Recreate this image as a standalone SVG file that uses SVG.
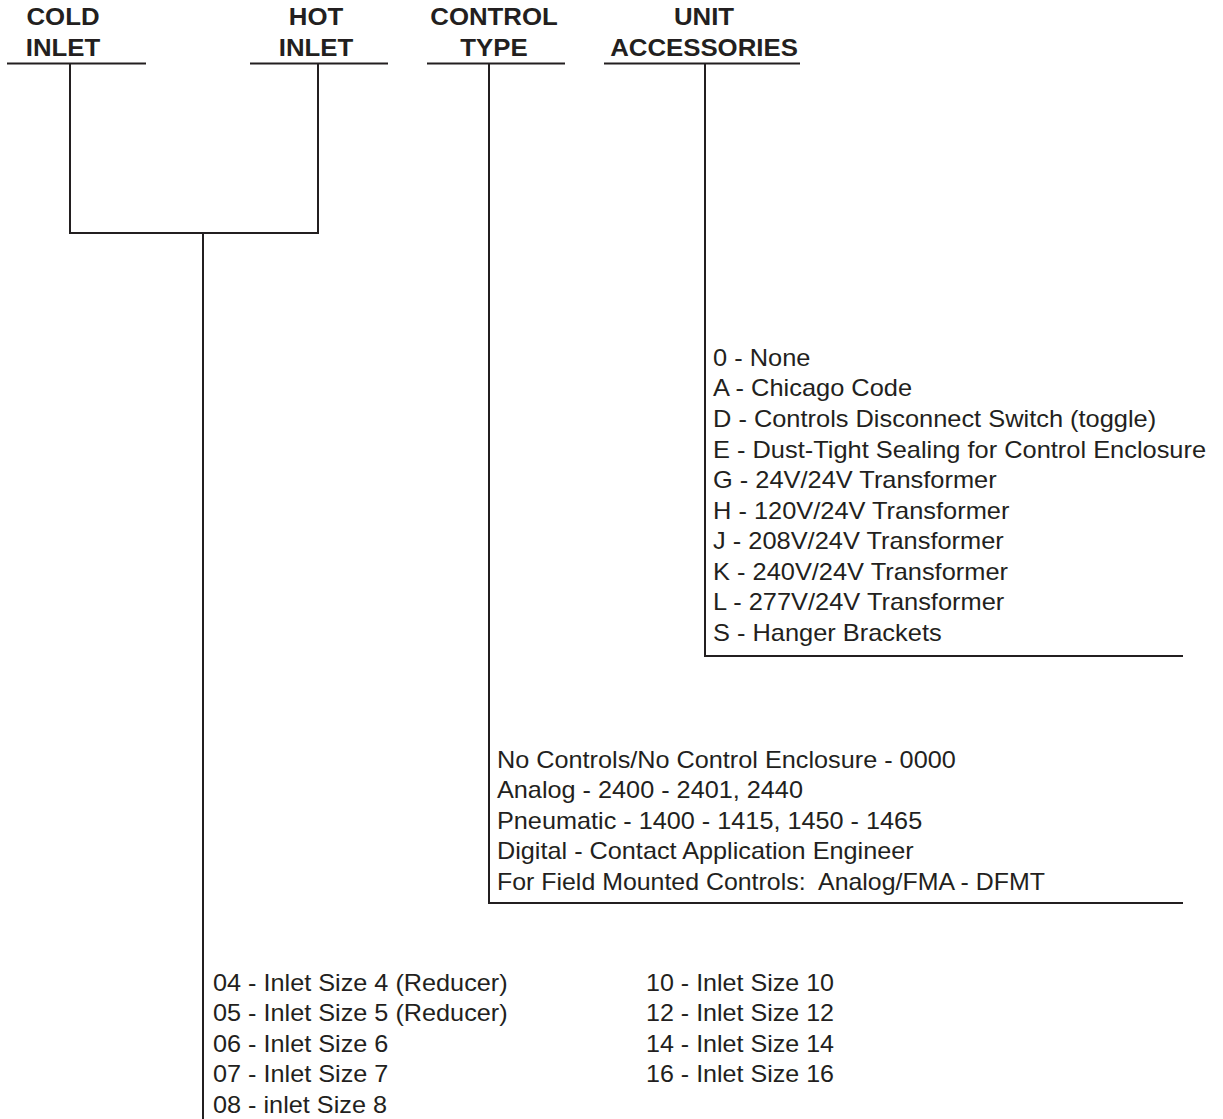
<svg xmlns="http://www.w3.org/2000/svg" width="1223" height="1119" viewBox="0 0 1223 1119">
<style>
.hd{font-family:"Liberation Sans",Arial,sans-serif;font-weight:bold;font-size:24px;fill:#231f20;text-anchor:middle}
.tx{font-family:"Liberation Sans",Arial,sans-serif;font-size:23px;fill:#231f20}
.ln{stroke:#231f20;stroke-width:2;fill:none}
</style>
<rect width="1223" height="1119" fill="#fff"/>
<g id="cold-inlet">
<g transform="translate(63,0) scale(1.075,1)"><text class="hd" x="0" y="25">COLD</text><text class="hd" x="0" y="56">INLET</text></g>
<line class="ln" x1="7" y1="63.5" x2="146" y2="63.5"/>
</g>
<g id="hot-inlet">
<g transform="translate(316,0) scale(1.075,1)"><text class="hd" x="0" y="25">HOT</text><text class="hd" x="0" y="56">INLET</text></g>
<line class="ln" x1="250" y1="63.5" x2="388" y2="63.5"/>
</g>
<g id="control-type">
<g transform="translate(494,0) scale(1.075,1)"><text class="hd" x="0" y="25">CONTROL</text><text class="hd" x="0" y="56">TYPE</text></g>
<line class="ln" x1="427" y1="63.5" x2="565" y2="63.5"/>
</g>
<g id="unit-accessories">
<g transform="translate(704,0) scale(1.075,1)"><text class="hd" x="0" y="25">UNIT</text><text class="hd" x="0" y="56">ACCESSORIES</text></g>
<line class="ln" x1="604" y1="63.5" x2="800" y2="63.5"/>
</g>
<g id="accessories-list" class="tx" transform="translate(713,0) scale(1.105,1)">
<text x="0" y="366">0 - None</text>
<text x="0" y="396.5">A - Chicago Code</text>
<text x="0" y="427">D - Controls Disconnect Switch (toggle)</text>
<text x="0" y="457.7">E - Dust-Tight Sealing for Control Enclosure</text>
<text x="0" y="488.2">G - 24V/24V Transformer</text>
<text x="0" y="518.8">H - 120V/24V Transformer</text>
<text x="0" y="549.3">J - 208V/24V Transformer</text>
<text x="0" y="579.9">K - 240V/24V Transformer</text>
<text x="0" y="610.5">L - 277V/24V Transformer</text>
<text x="0" y="641">S - Hanger Brackets</text>
</g>
<g id="control-list" class="tx" transform="translate(497,0) scale(1.098,1)">
<text x="0" y="768">No Controls/No Control Enclosure - 0000</text>
<text x="0" y="798.5">Analog - 2400 - 2401, 2440</text>
<text x="0" y="829">Pneumatic - 1400 - 1415, 1450 - 1465</text>
<text x="0" y="859.5">Digital - Contact Application Engineer</text>
<text x="0" y="890" xml:space="preserve" textLength="499" lengthAdjust="spacingAndGlyphs">For Field Mounted Controls:  Analog/FMA - DFMT</text>
</g>
<g id="inlet-list" class="tx">
<g transform="translate(213,0) scale(1.098,1)">
<text x="0" y="991">04 - Inlet Size 4 (Reducer)</text>
<text x="0" y="1021.5">05 - Inlet Size 5 (Reducer)</text>
<text x="0" y="1052">06 - Inlet Size 6</text>
<text x="0" y="1082.5">07 - Inlet Size 7</text>
<text x="0" y="1113">08 - inlet Size 8</text>
</g>
<g transform="translate(646,0) scale(1.09,1)">
<text x="0" y="991">10 - Inlet Size 10</text>
<text x="0" y="1021.5">12 - Inlet Size 12</text>
<text x="0" y="1052">14 - Inlet Size 14</text>
<text x="0" y="1082.5">16 - Inlet Size 16</text>
</g>
</g>
<g id="connectors" class="ln">
<polyline points="70,64 70,233 318,233 318,64"/>
<line x1="203" y1="233" x2="203" y2="1119"/>
<polyline points="489,64 489,903 1183,903"/>
<polyline points="705,64 705,656 1183,656"/>
</g>
</svg>
